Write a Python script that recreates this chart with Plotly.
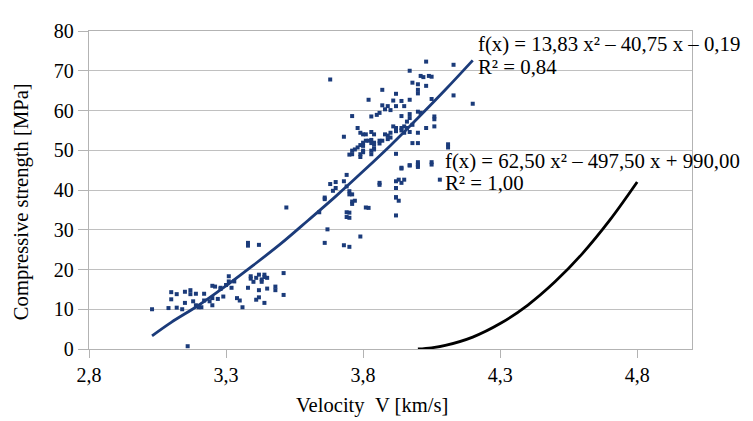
import plotly.graph_objects as go

# Scatter data: velocity [km/s] and compressive strength [MPa]
velocity = [
    3.03, 3.09, 3.12, 3.14, 3.10, 3.12, 3.10, 3.15, 3.17, 3.17, 3.19, 3.16, 3.15, 3.18, 3.19, 3.20,
    3.21, 3.22, 3.22, 3.24, 3.25, 3.26, 3.25, 3.25, 3.27, 3.28, 3.28, 3.29, 3.31, 3.31, 3.30, 3.32,
    3.33, 3.34, 3.35, 3.36, 3.38, 3.38, 3.42, 3.38, 3.39, 3.39, 3.40, 3.41, 3.42, 3.43, 3.43, 3.44,
    3.44, 3.45, 3.42, 3.45, 3.41, 3.42, 3.44, 3.48, 3.48, 3.51, 3.51, 3.52,
    3.66, 3.67, 3.64, 3.70, 3.74, 3.75, 3.76, 3.66, 3.76, 3.77, 3.76, 3.82, 3.75, 3.75, 3.79, 3.73,
    3.75, 3.92, 3.92, 3.93, 3.92, 3.86, 3.70, 3.74, 3.86, 3.94, 3.97, 4.00, 3.95, 3.94, 3.66, 3.74,
    3.74, 3.81, 4.08, 4.05, 3.73, 3.68, 3.69,
    3.68, 4.03, 4.13, 3.97, 4.01, 4.02, 4.04, 4.05, 3.98, 4.00, 4.03, 4.00, 4.00, 3.87, 3.92, 3.82,
    3.97, 3.91, 3.94, 4.05, 4.13, 4.20, 3.87, 3.89, 3.92, 3.95, 3.88, 3.90, 3.86, 3.85, 3.83, 3.76,
    3.94, 3.97, 3.97, 3.96, 4.00, 4.01, 4.06, 4.06, 3.95, 3.94, 3.96, 3.92, 3.92, 3.95, 3.97, 3.98,
    4.03, 4.06, 4.00, 3.78, 3.79, 3.80, 3.81, 3.83, 3.84, 3.73, 3.81, 3.82, 3.86, 3.87, 3.89, 3.90,
    3.83, 3.84, 3.84, 3.79, 3.80, 3.89, 3.90, 3.98, 4.00, 4.11, 4.11, 3.80, 3.78, 3.77, 3.76, 3.75,
    3.80, 3.80, 3.83, 3.84, 3.92, 4.00, 4.00, 3.97, 4.05, 3.92, 3.93, 3.75, 3.92, 3.94, 4.00, 3.83,
    3.86, 3.88, 3.91, 3.92, 3.94, 3.76, 3.79, 3.83, 3.79, 3.84,
]
strength = [
    10.0, 10.3, 10.4, 10.0, 14.3, 13.8, 12.5, 14.4, 14.8, 13.8, 13.9, 0.7, 11.6, 12.0, 11.0, 10.5,
    10.5, 13.9, 12.2, 12.0, 15.9, 15.7, 12.8, 11.0, 12.6, 15.4, 15.1, 13.2, 18.3, 17.0, 16.1, 15.4,
    17.0, 12.8, 12.2, 10.5, 26.7, 26.0, 26.2, 15.4, 17.7, 18.3, 16.9, 17.9, 18.7, 17.5, 16.9, 18.1,
    18.7, 17.9, 14.8, 15.2, 12.4, 13.0, 11.6, 15.7, 14.8, 19.1, 13.6, 35.6,
    26.7, 30.1, 34.4, 40.5, 40.9, 39.7, 38.9, 37.7, 37.1, 37.3, 36.5, 35.5, 34.3, 33.0, 28.3, 26.1,
    25.7, 40.5, 38.2, 37.3, 33.6, 41.3, 42.0, 43.8, 41.8, 45.4, 46.2, 45.8, 42.6, 41.8, 38.1, 34.4,
    33.2, 35.6, 42.6, 46.4, 42.2, 41.5, 39.8,
    67.8, 72.3, 71.5, 70.0, 68.7, 68.4, 68.7, 68.5, 67.0, 66.6, 66.2, 65.2, 64.3, 65.2, 64.2, 62.7,
    62.7, 62.5, 62.4, 62.9, 63.8, 61.7, 61.3, 61.1, 61.1, 61.1, 60.3, 60.1, 59.4, 58.9, 58.5, 58.6,
    58.6, 59.1, 58.1, 57.2, 59.7, 59.4, 58.5, 57.8, 56.0, 55.6, 55.6, 55.6, 54.8, 54.4, 54.6, 56.4,
    55.6, 56.0, 54.4, 55.6, 54.4, 54.0, 54.0, 54.6, 54.0, 53.4, 52.4, 52.4, 52.4, 52.4, 52.8, 53.2,
    51.8, 51.9, 51.5, 51.3, 51.9, 53.7, 54.4, 51.8, 51.8, 51.5, 50.7, 51.1, 50.7, 50.2, 49.9, 48.9,
    49.9, 49.5, 49.9, 50.5, 49.1, 47.0, 46.2, 46.2, 47.0, 42.2, 42.6, 38.9, 38.1, 45.6, 46.4, 52.6,
    51.7, 54.0, 56.0, 55.3, 55.0, 49.0, 49.0, 49.0, 48.3, 50.2,
]

# Trend line 1 (blue)
trend1_x = [3.03, 3.1, 3.2, 3.3, 3.4, 3.5, 3.6, 3.7, 3.8, 3.9, 4.0, 4.1, 4.2]
trend1_y = [3.3, 6.7, 11.0, 15.9, 21.1, 26.5, 32.4, 38.4, 44.7, 51.2, 58.1, 65.2, 72.6]

# Trend line 2 (black)
trend2_x = [4.0, 4.05, 4.1, 4.2, 4.3, 4.4, 4.5, 4.6, 4.7, 4.8]
trend2_y = [0.0, 0.3, 0.9, 3.0, 6.4, 11.0, 16.9, 24.0, 32.4, 42.0]

eq1 = "f(x) = 13,83 x² – 40,75 x – 0,19"
r1 = "R² = 0,84"
eq2 = "f(x) = 62,50 x² – 497,50 x + 990,00"
r2 = "R² = 1,00"

x_ticks = [2.8, 3.3, 3.8, 4.3, 4.8]
x_tick_labels = ["2,8", "3,3", "3,8", "4,3", "4,8"]
y_ticks = [0, 10, 20, 30, 40, 50, 60, 70, 80]

NAVY = "#1b3b7a"
FONT = "Liberation Serif"
FS = 20
FS_ANN = 20.8
FS_TITLE = 20.6

fig = go.Figure()
fig.add_trace(go.Scatter(x=velocity, y=strength, mode="markers",
                         marker=dict(symbol="square", size=4, color=NAVY),
                         showlegend=False, hoverinfo="x+y"))
fig.add_trace(go.Scatter(x=trend1_x, y=trend1_y, mode="lines",
                         line=dict(color=NAVY, width=2.8, shape="spline"),
                         showlegend=False))
fig.add_trace(go.Scatter(x=trend2_x, y=trend2_y, mode="lines",
                         line=dict(color="black", width=2.8, shape="spline"),
                         showlegend=False))

OFF = 8  # page body offset
W, H = 753 - OFF, 421 - OFF
L, T = 89 - OFF, 22 - OFF
R = W - L - 603
B = H - T - 327
pw, ph = W - L - R, H - T - B

def px(xp):
    return (xp - OFF - L) / pw

def py(yp):
    return (H - B - (yp - OFF)) / ph

ann = []
for text, xp, yp in [(eq1, 476, 35), (r1, 476, 58), (eq2, 443, 156), (r2, 443, 178)]:
    ann.append(dict(text=text, x=px(xp), y=py(yp), xref="paper", yref="paper",
                    xanchor="left", yanchor="middle", showarrow=False,
                    font=dict(family=FONT, size=FS_ANN, color="black")))
ann.append(dict(text="Velocity&nbsp;&nbsp;V [km/s]", x=px(372), y=py(407), xref="paper", yref="paper",
                xanchor="center", yanchor="middle", showarrow=False,
                font=dict(family=FONT, size=FS_TITLE, color="black")))
ann.append(dict(text="Compressive strength [MPa]", x=px(21), y=py(198), xref="paper", yref="paper",
                xanchor="center", yanchor="middle", showarrow=False, textangle=-90,
                font=dict(family=FONT, size=FS_TITLE, color="black")))

fig.update_layout(
    width=W, height=H,
    margin=dict(l=L, r=R, t=T, b=B, pad=0),
    paper_bgcolor="white", plot_bgcolor="white",
    font=dict(family=FONT, size=FS, color="black"),
    separators=", ",
    annotations=ann,
    xaxis=dict(range=[2.8, 5.0], tickvals=x_ticks, ticktext=x_tick_labels,
               showgrid=False, zeroline=False,
               showline=True, linecolor="#b3b3b3", linewidth=1.3, mirror=True,
               ticks="outside", ticklen=8, tickcolor="#b3b3b3", tickwidth=1),
    yaxis=dict(range=[0, 80], tickvals=y_ticks,
               showgrid=True, gridcolor="#c0c0c0", gridwidth=1, zeroline=False,
               showline=True, linecolor="#b3b3b3", linewidth=1.3, mirror=True,
               ticks="outside", ticklen=10, tickcolor="#b3b3b3", tickwidth=1),
)

fig.write_html("out.html")
